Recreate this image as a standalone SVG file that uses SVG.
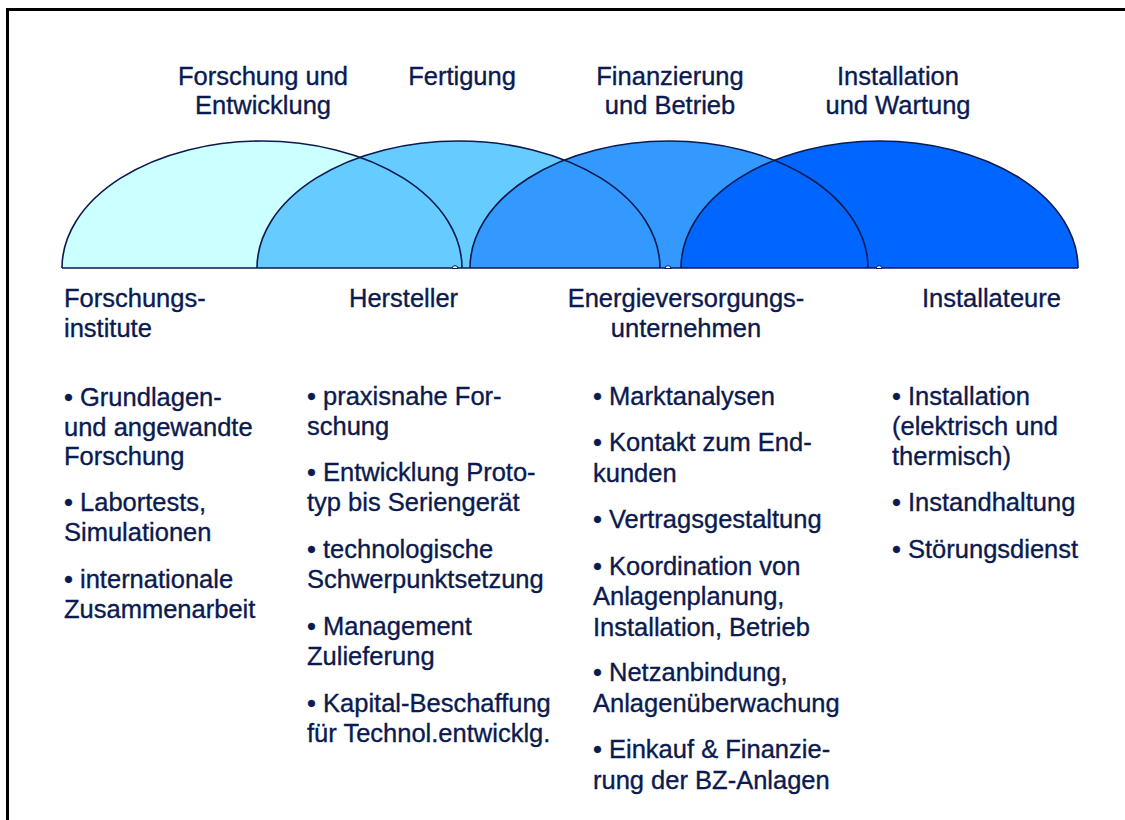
<svg xmlns="http://www.w3.org/2000/svg" width="1125" height="820" viewBox="0 0 1125 820">
  <style>
    .t { font-family: "Liberation Sans", Arial, sans-serif; font-size: 25.5px; fill: #0b1a4f; stroke: #0b1a4f; stroke-width: 0.35; }
    .c { text-anchor: middle; }
    .dome { stroke: none; }
    .edge { fill: none; stroke: #0b1a4f; stroke-width: 1.6; }
    .notch { fill: #ffffff; stroke: #0b1a4f; stroke-width: 1; }
  </style>

  <rect width="1125" height="820" fill="#ffffff"/>
  <!-- frame (open to the right and bottom) -->
  <path d="M7.5,830 L7.5,9.5 L1130,9.5" fill="none" stroke="#000000" stroke-width="3"/>

  <!-- value chain domes -->
  <g id="domes">
    <path id="dome-forschung" class="dome" fill="#ccffff" d="M62,268 A200,127 0 0 1 462,268 Z"/>
    <path id="dome-fertigung" class="dome" fill="#66ccff" d="M257,268 A201.5,127 0 0 1 660,268 Z"/>
    <path id="dome-finanzierung" class="dome" fill="#3399ff" d="M470,268 A199,127 0 0 1 868,268 Z"/>
    <path id="dome-installation" class="dome" fill="#0066ff" d="M681,268 A198.5,127 0 0 1 1078,268 Z"/>
  </g>

  <g id="connectors">
    <path class="edge" d="M62,268 A200,127 0 0 1 462,268"/>
    <path class="edge" d="M257,268 A201.5,127 0 0 1 660,268"/>
    <path class="edge" d="M470,268 A199,127 0 0 1 868,268"/>
    <path class="edge" d="M681,268 A198.5,127 0 0 1 1078,268"/>
    <line class="edge" x1="62" y1="268" x2="1078" y2="268"/>
    <path class="notch" d="M452,268.5 A3,2.8 0 0 1 458,268.5 Z"/>
    <path class="notch" d="M665,268.5 A3,2.8 0 0 1 671,268.5 Z"/>
    <path class="notch" d="M876,268.5 A3,2.8 0 0 1 882,268.5 Z"/>
  </g>

  <!-- stage titles -->
  <g id="stage-fue">
    <text class="t c" x="263" y="85">Forschung und</text>
    <text class="t c" x="263" y="114">Entwicklung</text>
  </g>
  <g id="stage-fertigung">
    <text class="t c" x="462" y="85">Fertigung</text>
  </g>
  <g id="stage-finanzierung">
    <text class="t c" x="670" y="85">Finanzierung</text>
    <text class="t c" x="670" y="114">und Betrieb</text>
  </g>
  <g id="stage-installation">
    <text class="t c" x="898" y="85">Installation</text>
    <text class="t c" x="898" y="114">und Wartung</text>
  </g>

  <!-- actors and tasks -->
  <g id="col-forschungsinstitute">
    <text class="t" x="64" y="307">Forschungs-</text>
    <text class="t" x="64" y="337">institute</text>
    <text class="t" x="64" y="406">• Grundlagen-</text>
    <text class="t" x="64" y="435.5">und angewandte</text>
    <text class="t" x="64" y="465">Forschung</text>
    <text class="t" x="64" y="511">• Labortests,</text>
    <text class="t" x="64" y="541">Simulationen</text>
    <text class="t" x="64" y="588">• internationale</text>
    <text class="t" x="64" y="618">Zusammenarbeit</text>
  </g>

  <g id="col-hersteller">
    <text class="t" x="349" y="307">Hersteller</text>
    <text class="t" x="307" y="405">• praxisnahe For-</text>
    <text class="t" x="307" y="435">schung</text>
    <text class="t" x="307" y="481">• Entwicklung Proto-</text>
    <text class="t" x="307" y="511">typ bis Seriengerät</text>
    <text class="t" x="307" y="558">• technologische</text>
    <text class="t" x="307" y="588">Schwerpunktsetzung</text>
    <text class="t" x="307" y="635">• Management</text>
    <text class="t" x="307" y="665">Zulieferung</text>
    <text class="t" x="307" y="712">• Kapital-Beschaffung</text>
    <text class="t" x="307" y="742">für Technol.entwicklg.</text>
  </g>

  <g id="col-evu">
    <text class="t c" x="686" y="307">Energieversorgungs-</text>
    <text class="t c" x="686" y="337">unternehmen</text>
    <text class="t" x="593" y="405">• Marktanalysen</text>
    <text class="t" x="593" y="451">• Kontakt zum End-</text>
    <text class="t" x="593" y="482">kunden</text>
    <text class="t" x="593" y="528">• Vertragsgestaltung</text>
    <text class="t" x="593" y="575">• Koordination von</text>
    <text class="t" x="593" y="605">Anlagenplanung,</text>
    <text class="t" x="593" y="636">Installation, Betrieb</text>
    <text class="t" x="593" y="681">• Netzanbindung,</text>
    <text class="t" x="593" y="712">Anlagenüberwachung</text>
    <text class="t" x="593" y="758">• Einkauf &amp; Finanzie-</text>
    <text class="t" x="593" y="789">rung der BZ-Anlagen</text>
  </g>

  <g id="col-installateure">
    <text class="t" x="922" y="307">Installateure</text>
    <text class="t" x="892" y="405">• Installation</text>
    <text class="t" x="892" y="435">(elektrisch und</text>
    <text class="t" x="892" y="465">thermisch)</text>
    <text class="t" x="892" y="511">• Instandhaltung</text>
    <text class="t" x="892" y="558">• Störungsdienst</text>
  </g>
</svg>
